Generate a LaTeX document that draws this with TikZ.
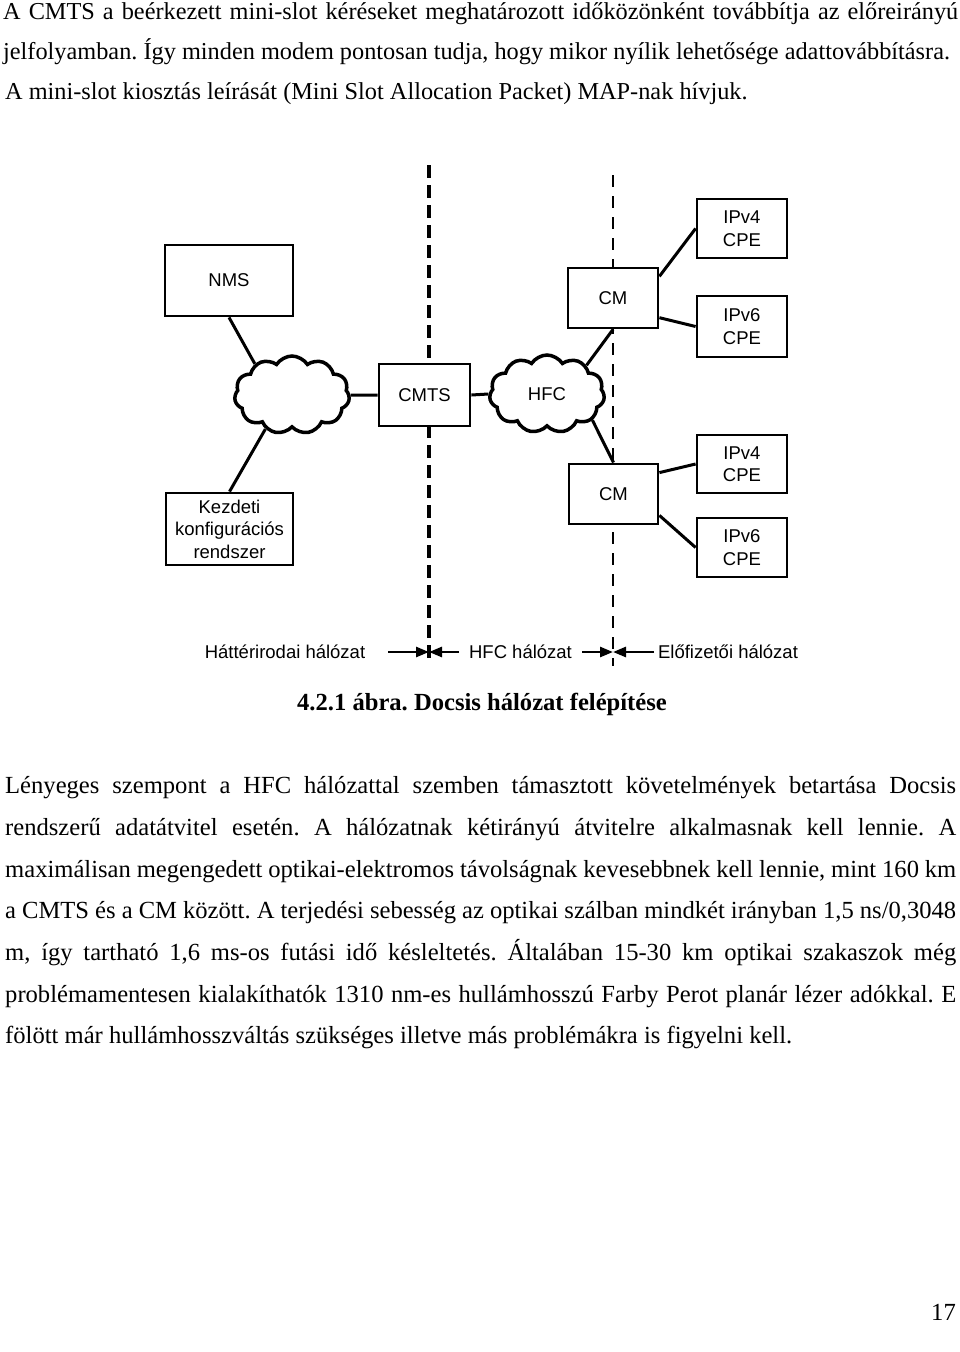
\documentclass[tikz,border=0pt]{standalone}
\usepackage{fontspec}
\setmainfont{Liberation Serif}
\newfontfamily\arialf{Liberation Sans}
\usetikzlibrary{shapes.symbols,arrows.meta,backgrounds,calc}
\frenchspacing
\tikzset{
  boxnode/.style={draw, line width=2.8pt, fill=white, inner sep=0pt, align=center,
    font=\arialf\fontsize{18.5}{22.5}\selectfont},
  cloudnode/.style={cloud, cloud puffs=11, cloud puff arc=115, aspect=1.5, draw,
    line width=3.5pt, fill=white, inner sep=0pt, minimum width=115pt, minimum height=78pt,
    font=\arialf\fontsize{18.5}{22.5}\selectfont},
  link/.style={line width=3pt},
  thickdash/.style={line width=3.2pt, dash pattern=on 13pt off 7pt},
  thindash/.style={line width=1.6pt, dash pattern=on 12pt off 9pt},
  netarrow/.style={line width=2.6pt, -{Triangle[length=13pt,width=10pt]}},
  netlabel/.style={anchor=base, inner sep=0pt, font=\arialf\fontsize{18.5}{22.5}\selectfont},
  bodytext/.style={anchor=base west, inner sep=0pt, font=\fontsize{24.6}{30}\selectfont},
  toptext/.style={anchor=base west, inner sep=0pt, font=\fontsize{24.3}{30}\selectfont},
}
\begin{document}
\begin{tikzpicture}[x=1pt,y=-1pt]
\useasboundingbox (0,0) rectangle (960,1352);

% top text
\node[toptext] (t1) at (3,19) {\makebox[955pt][s]{A CMTS a beérkezett mini-slot kéréseket meghatározott időközönként továbbítja az előreirányú}};
\node[toptext] (t2) at (3,59) {jelfolyamban. Így minden modem pontosan tudja, hogy mikor nyílik lehetősége adattovábbításra.};
\node[toptext] (t3) at (5,99) {A mini-slot kiosztás leírását (Mini Slot Allocation Packet) MAP-nak hívjuk.};

% diagram nodes
\node[boxnode, minimum width=128pt, minimum height=71pt] (nms) at (229,280.5) {NMS};
\node[cloudnode] (cloud1) at (292,395) {};
\node[boxnode, minimum width=91pt, minimum height=62pt] (cmts) at (424.5,395) {CMTS};
\node[cloudnode] (hfc) at (547,394) {HFC};
\node[boxnode, minimum width=90pt, minimum height=60pt] (cmT) at (613,298) {CM};
\node[boxnode, minimum width=90pt, minimum height=59pt] (ipv4T) at (742,228.5) {IPv4\\CPE};
\node[boxnode, minimum width=90pt, minimum height=61pt] (ipv6T) at (742,326.5) {IPv6\\CPE};
\node[boxnode, minimum width=127pt, minimum height=72pt] (kezd) at (229.5,529) {Kezdeti\\konfigurációs\\rendszer};
\node[boxnode, minimum width=89pt, minimum height=60pt] (cmB) at (613.5,494) {CM};
\node[boxnode, minimum width=90pt, minimum height=58pt] (ipv4B) at (742,464) {IPv4\\CPE};
\node[boxnode, minimum width=90pt, minimum height=59pt] (ipv6B) at (742,547.5) {IPv6\\CPE};

% dashed boundaries and connectors behind nodes
\coordinate (d1top) at (429,165);
\coordinate (d1bot) at (429,662);
\coordinate (d2top) at (613,175);
\coordinate (d2bot) at (613,666);
\coordinate (d1mid) at (429,652);
\coordinate (d2mid) at (613,652);
\begin{scope}[on background layer]
  \fill[white] (0,0) rectangle (960,1352);
  \draw[thickdash] (d1top) -- (d1bot);
  \draw[thindash] (d2top) -- (d2bot);
  \draw[link] (nms.south) -- (cloud1.140);
  \draw[link] (cloud1.232) -- (kezd.north);
  \draw[link] (cloud1.east) -- (cmts.west);
  \draw[link] (cmts.east) -- (hfc.west);
  \draw[link] (hfc.36) -- (cmT.south);
  \draw[link] (hfc.330) -- (cmB.north);
  \draw[link] (cmT.25) -- (ipv4T.west);
  \draw[link] (cmT.-23) -- (ipv6T.west);
  \draw[link] (cmB.25) -- (ipv4B.west);
  \draw[link] (cmB.-25) -- (ipv6B.west);
\end{scope}

% network labels and arrows
\node[netlabel] (lab1) at (285,658.5) {Háttérirodai hálózat};
\node[netlabel] (lab2) at (520.5,658.5) {HFC hálózat};
\node[netlabel] (lab3) at (728,658.5) {Előfizetői hálózat};
\coordinate (a1) at (388,652);
\coordinate (a2) at (459,652);
\coordinate (a3) at (582,652);
\coordinate (a4) at (654,652);
\draw[netarrow] (a1) -- (d1mid);
\draw[netarrow] (a2) -- (d1mid);
\draw[netarrow] (a3) -- (d2mid);
\draw[netarrow] (a4) -- (d2mid);

% caption
\node[anchor=base, inner sep=0pt, font=\bfseries\fontsize{24.6}{30}\selectfont] (cap) at (482,710) {4.2.1 ábra. Docsis hálózat felépítése};

% body text
\node[bodytext] (b1) at (5,793) {\makebox[951pt][s]{Lényeges szempont a HFC hálózattal szemben támasztott követelmények betartása Docsis}};
\node[bodytext] (b2) at (5,835) {\makebox[951pt][s]{rendszerű adatátvitel esetén. A hálózatnak kétirányú átvitelre alkalmasnak kell lennie. A}};
\node[bodytext] (b3) at (5,877) {\makebox[951pt][s]{maximálisan megengedett optikai-elektromos távolságnak kevesebbnek kell lennie, mint 160 km}};
\node[bodytext] (b4) at (5,918) {\makebox[951pt][s]{a CMTS és a CM között. A terjedési sebesség az optikai szálban mindkét irányban 1,5 ns/0,3048}};
\node[bodytext] (b5) at (5,960) {\makebox[951pt][s]{m, így tartható 1,6 ms-os futási idő késleltetés. Általában 15-30 km optikai szakaszok még}};
\node[bodytext] (b6) at (5,1002) {\makebox[951pt][s]{problémamentesen kialakíthatók 1310 nm-es hullámhosszú Farby Perot planár lézer adókkal. E}};
\node[bodytext] (b7) at (5,1043) {fölött már hullámhosszváltás szükséges illetve más problémákra is figyelni kell.};

% page number
\node[anchor=base east, inner sep=0pt, font=\fontsize{24.6}{30}\selectfont] (pg) at (956,1320) {17};
\end{tikzpicture}
\end{document}
